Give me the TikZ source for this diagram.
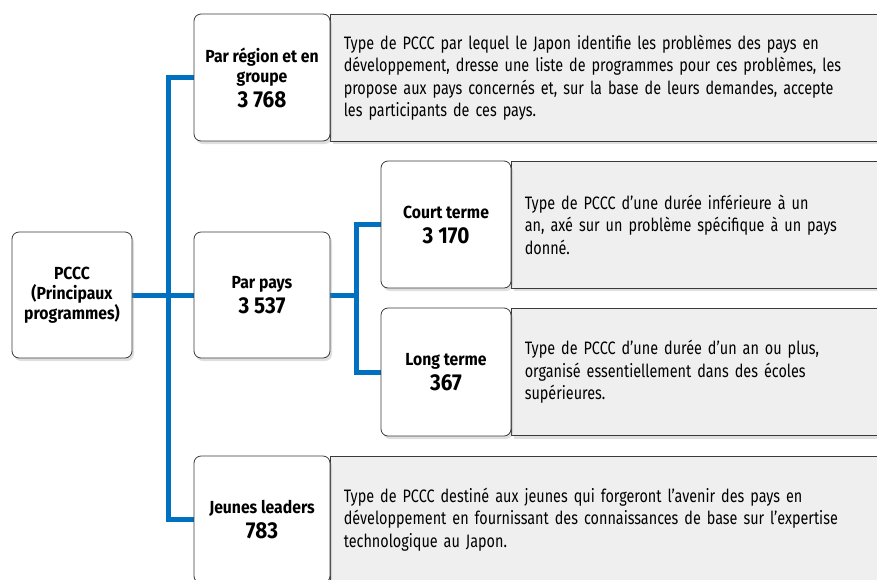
\documentclass[tikz,border=0pt]{standalone}
\usepackage{fontspec}
\setmainfont{Fira Sans}[FakeStretch=0.8, BoldFeatures={FakeStretch=0.9}]
\usetikzlibrary{positioning,shadows,backgrounds}

\definecolor{linkblue}{HTML}{0070C0}
\definecolor{descgrey}{HTML}{EFEFEF}
\definecolor{edgegrey}{HTML}{3A3A3A}

\newcommand{\progcount}[1]{\\[5pt]{\fontsize{23}{24}\selectfont #1}}

\tikzset{
  prog/.style={draw=edgegrey, fill=white, line width=0.8pt, rounded corners=7pt,
    align=center, inner sep=3pt, font=\bfseries\fontsize{17.5}{20}\selectfont,
    drop shadow={shadow xshift=2pt, shadow yshift=-3pt, opacity=0.25}},
  progwide/.style={prog, minimum width=136pt, minimum height=127pt},
  progsub/.style={prog, minimum width=130pt, minimum height=127pt},
  desc/.style={draw=edgegrey, fill=descgrey, line width=0.8pt, anchor=west,
    minimum height=127pt, text width=560pt, inner xsep=13pt, align=left,
    font=\fontsize{18}{22.5}\selectfont,
    drop shadow={shadow xshift=2pt, shadow yshift=-3pt, opacity=0.25}},
  link/.style={draw=linkblue, line width=5pt}
}

\begin{document}
\begin{tikzpicture}[x=1pt, y=-1pt]
\useasboundingbox (0,0) rectangle (877,579);

% programme boxes
\node[prog, minimum width=120pt, minimum height=126pt] (pccc) at (72,295) {PCCC\\(Principaux\\programmes)};
\node[progwide] (region) at (262,77.5) {Par région et en\\groupe\progcount{3~768}};
\node[progwide, minimum height=126pt] (pays) at (262,295) {Par pays\progcount{3~537}};
\node[progsub] (court) at (446,224.5) {Court terme\progcount{3~170}};
\node[progsub, minimum height=128pt] (long) at (446,372) {Long terme\progcount{367}};
\node[progwide] (jeunes) at (262,519.5) {Jeunes leaders\progcount{783}};

\coordinate (trunk) at (168,295);
\coordinate (fork) at (356,295);

\begin{scope}[on background layer]
% descriptions
\node[desc] (regiondesc) at (region.east) {Type de PCCC par lequel le Japon identifie les problèmes des pays en\\développement, dresse une liste de programmes pour ces problèmes, les\\propose aux pays concernés et, sur la base de leurs demandes, accepte\\les participants de ces pays.};
\node[desc] (courtdesc) at (court.east) {Type de PCCC d’une durée inférieure à un\\an, axé sur un problème spécifique à un pays\\donné.};
\node[desc] (longdesc) at (long.east) {Type de PCCC d’une durée d’un an ou plus,\\organisé essentiellement dans des écoles\\supérieures.};
\node[desc] (jeunesdesc) at (jeunes.east) {Type de PCCC destiné aux jeunes qui forgeront l’avenir des pays en\\développement en fournissant des connaissances de base sur l’expertise\\technologique au Japon.};

% links
\draw[link] (pccc.east) -- (pays.west);
\draw[link] (region.west) -| (trunk) |- (jeunes.west);
\draw[link] (pays.east) -- (fork);
\draw[link] (court.west) -| (fork) |- (long.west);
\end{scope}
\end{tikzpicture}
\end{document}
